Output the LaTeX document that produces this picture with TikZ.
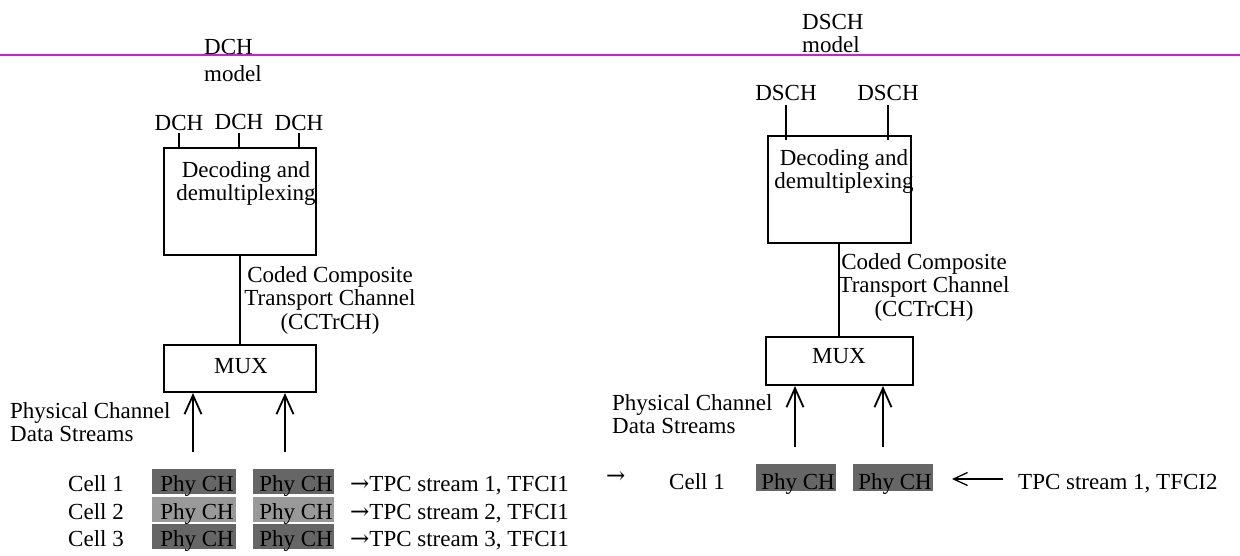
\documentclass[tikz,border=0pt]{standalone}
\usepackage{fontspec}
\setmainfont{Liberation Serif}
\newfontfamily\arrowfont{DejaVu Serif}
\usetikzlibrary{arrows.meta}
\definecolor{sepline}{RGB}{204,34,204}
\definecolor{phydark}{RGB}{102,102,102}
\definecolor{phylight}{RGB}{153,153,153}
\newcommand{\rarrowglyph}{{\arrowfont →}}
\begin{document}
\begin{tikzpicture}[x=1pt,y=-1pt,
  txt/.style={inner sep=0pt, font=\fontsize{23}{24}\selectfont},
  lbl/.style={txt, anchor=base west},
  clbl/.style={txt, anchor=base},
  blockbox/.style={draw, line width=2pt, inner sep=0pt},
  conn/.style={line width=1.8pt},
  uparrow/.style={line width=1.8pt, -{Straight Barb[length=19pt,width=17pt]}},
  longarrow/.style={line width=1.3pt, -{Straight Barb[length=14pt,width=13pt]}},
  phybox/.style={inner sep=0pt, minimum height=25pt},
]
\useasboundingbox (0,0) rectangle (1240,555);
\coordinate (sepL) at (0,55);
\coordinate (sepR) at (1240,55);
\draw[sepline, line width=1.5pt] (sepL) -- (sepR);

% ---------------- left: DCH model ----------------
\node[lbl] (dchTitle) at (204,54) {DCH};
\node[lbl] (dchModel) at (204,81) {model};
\node[clbl] (dchA) at (179,130) {DCH};
\node[clbl] (dchB) at (239,129) {DCH};
\node[clbl] (dchC) at (299,130) {DCH};

\node[blockbox, minimum width=152pt, minimum height=107pt] (dec1) at (240,201.5) {};
\node[clbl] (dec1a) at (246,177) {Decoding and};
\node[clbl] (dec1b) at (246,200) {demultiplexing};

\draw[conn, shorten <=3pt] (dchA.south) -- (dchA.south |- dec1.north);
\draw[conn, shorten <=4pt] (dchB.south) -- (dchB.south |- dec1.north);
\draw[conn, shorten <=3pt] (dchC.south) -- (dchC.south |- dec1.north);

\node[blockbox, minimum width=152pt, minimum height=47pt] (mux1) at (240,368.5) {};
\node[clbl] (mux1t) at (241,373) {MUX};
\draw[conn] (dec1.south) -- (mux1.north);

\node[clbl] (cc1a) at (330,282) {Coded Composite};
\node[clbl] (cc1b) at (330,305.5) {Transport Channel};
\node[clbl] (cc1c) at (330,329) {(CCTrCH)};

\node[lbl] (pc1a) at (10,418) {Physical Channel};
\node[lbl] (pc1b) at (10,441) {Data Streams};

\coordinate (up1a) at (193,452);
\coordinate (up1b) at (285,452);
\draw[uparrow] (up1a) -- (up1a |- mux1.south);
\draw[uparrow] (up1b) -- (up1b |- mux1.south);

\node[phybox, fill=phydark,  minimum width=84pt] (p11) at (194,481) {};
\node[phybox, fill=phydark,  minimum width=81pt] (p12) at (293.5,481) {};
\node[phybox, fill=phylight, minimum width=84pt] (p21) at (194,509) {};
\node[phybox, fill=phylight, minimum width=81pt] (p22) at (293.5,509) {};
\node[phybox, fill=phydark,  minimum width=84pt] (p31) at (194,536.5) {};
\node[phybox, fill=phydark,  minimum width=81pt] (p32) at (293.5,536.5) {};
\node[clbl] (t11) at (197,491) {Phy CH};
\node[clbl] (t12) at (296,491) {Phy CH};
\node[clbl] (t21) at (197,519) {Phy CH};
\node[clbl] (t22) at (296,519) {Phy CH};
\node[clbl] (t31) at (197,546) {Phy CH};
\node[clbl] (t32) at (296,546) {Phy CH};

\node[lbl] (cell1) at (68,491) {Cell 1};
\node[lbl] (cell2) at (68,519) {Cell 2};
\node[lbl] (cell3) at (68,546) {Cell 3};

\node[lbl] (tpc1) at (350,491) {\rarrowglyph TPC stream 1, TFCI1};
\node[lbl] (tpc2) at (350,519) {\rarrowglyph TPC stream 2, TFCI1};
\node[lbl] (tpc3) at (350,546) {\rarrowglyph TPC stream 3, TFCI1};

% ---------------- right: DSCH model ----------------
\node[lbl] (dschTitle) at (802,29) {DSCH};
\node[lbl] (dschModel) at (802,52) {model};
\node[clbl] (dschA) at (786,100) {DSCH};
\node[clbl] (dschB) at (888,100) {DSCH};

\node[blockbox, minimum width=143pt, minimum height=107pt] (dec2) at (839,189.5) {};
\node[clbl] (dec2a) at (844,165) {Decoding and};
\node[clbl] (dec2b) at (844,188) {demultiplexing};

\draw[conn, shorten <=5pt, shorten >=-5pt] (dschA.south) -- (dschA.south |- dec2.north);
\draw[conn, shorten <=5pt, shorten >=-5pt] (dschB.south) -- (dschB.south |- dec2.north);

\node[blockbox, minimum width=147pt, minimum height=48pt] (mux2) at (839,361) {};
\node[clbl] (mux2t) at (839,363) {MUX};
\draw[conn] (dec2.south) -- (mux2.north);

\node[clbl] (cc2a) at (924,269) {Coded Composite};
\node[clbl] (cc2b) at (924,292.5) {Transport Channel};
\node[clbl] (cc2c) at (924,316) {(CCTrCH)};

\node[lbl] (pc2a) at (612,410) {Physical Channel};
\node[lbl] (pc2b) at (612,433) {Data Streams};

\coordinate (up2a) at (795,447);
\coordinate (up2b) at (883,447);
\draw[uparrow] (up2a) -- (up2a |- mux2.south);
\draw[uparrow] (up2b) -- (up2b |- mux2.south);

\node[lbl] (rarr) at (606,483) {\rarrowglyph};
\node[lbl] (cellR) at (669,489) {Cell 1};

\node[phybox, fill=phydark, minimum width=80pt, minimum height=27pt] (q1) at (796,477.5) {};
\node[phybox, fill=phydark, minimum width=80pt, minimum height=27pt] (q2) at (893,477.5) {};
\node[clbl] (u1) at (798,489) {Phy CH};
\node[clbl] (u2) at (895,489) {Phy CH};

\node[lbl] (tpcR) at (1018,489) {TPC stream 1, TFCI2};
\coordinate (larrS) at (1003,479);
\coordinate (larrE) at (952,479);
\draw[longarrow] (larrS) -- (larrE);
\end{tikzpicture}
\end{document}
